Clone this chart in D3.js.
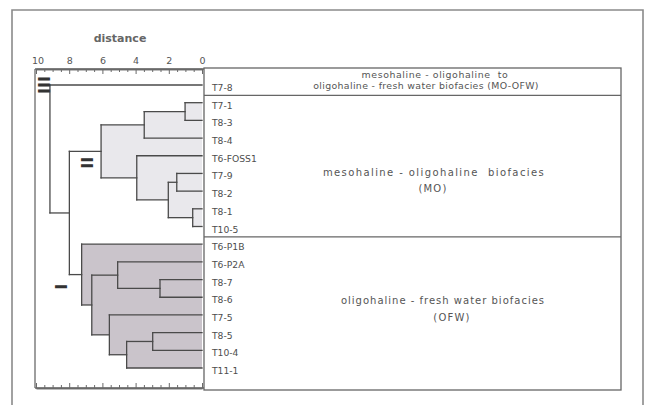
<!DOCTYPE html>
<html><head><meta charset="utf-8">
<script src="https://cdn.jsdelivr.net/npm/d3@7"></script>
<style>body{margin:0;background:#fff}svg{display:block}</style>
</head><body><svg id="c" width="651" height="405"></svg>
<script>
// ---------- DATA ----------
const leaves = ["T7-8","T7-1","T8-3","T8-4","T6-FOSS1","T7-9","T8-2","T8-1","T10-5",
                "T6-P1B","T6-P2A","T8-7","T8-6","T7-5","T8-5","T10-4","T11-1"];
// hclust-style merges: negative = leaf (1-based), positive = earlier merge (1-based)
const mergeA = [-2, 1, -8, -6, 4, -5, 2, -12, -11, -15, 10, -14, 9, -10, 7, -1];
const mergeB = [-3, -4, -9, -7, 3, 5, 6, -13, 8, -16, -17, 11, 12, 13, 14, 15];
const mergeHeight = [1.02, 3.48, 0.56, 1.52, 2.03, 3.93, 6.08, 2.53, 5.08, 2.97, 4.54, 5.58, 6.64, 7.25, 7.99, 9.16];
const mergeGroup = ["MO","MO","MO","MO","MO","MO","MO","OFW","OFW","OFW","OFW","OFW","OFW","OFW","",""];
const axisTicks = [10, 8, 6, 4, 2, 0];
const axisTitle = "distance";
const faciesLines = [
  ["mesohaline - oligohaline  to", "oligohaline - fresh water biofacies (MO-OFW)"],
  ["mesohaline - oligohaline  biofacies", "(MO)"],
  ["oligohaline - fresh water biofacies", "(OFW)"]
];
const faciesDividersAfter = ["T7-8", "T10-5"];
const clusterNumerals = ["III", "II", "I"];

// ---------- LAYOUT ----------
const svg = d3.select("#c");
const x = d3.scaleLinear().domain([0, 10]).range([202, 36]);
const yIdx = d3.scaleLinear().domain([0, leaves.length - 1]).range([85, 368]);
const y = d3.scalePoint().domain(leaves).range([85, 368]);
const fillColor = {MO: "#e9e8ec", OFW: "#cac4cb"};
const lineColor = "#4a4a4a";

// outer frame
svg.append("path").attr("d", "M12,412V10H643V412")
  .attr("fill", "none").attr("stroke", "#8a8a8a").attr("stroke-width", 1.6);

// build nodes
const nodes = mergeHeight.map((h, i) => ({h, group: mergeGroup[i], kids: [mergeA[i], mergeB[i]]}));
function childInfo(c) {
  if (c < 0) return {y: y(leaves[-c - 1]), h: 0};
  const n = nodes[c - 1];
  return {y: n.y, h: n.h};
}
nodes.forEach(n => {
  n.c = n.kids.map(childInfo);
  n.y = (n.c[0].y + n.c[1].y) / 2;
});

const g = svg.append("g");
// fills
g.selectAll("rect.fill").data(nodes.filter(n => n.group)).join("rect")
  .attr("x", n => x(n.h)).attr("width", n => x(0) - x(n.h))
  .attr("y", n => Math.min(n.c[0].y, n.c[1].y))
  .attr("height", n => Math.abs(n.c[1].y - n.c[0].y))
  .attr("fill", n => fillColor[n.group]);

// dendrogram lines
const segs = [];
nodes.forEach(n => {
  segs.push([x(n.h), n.c[0].y, x(n.h), n.c[1].y]);
  n.c.forEach(c => segs.push([x(n.h), c.y, x(c.h), c.y]));
});
g.selectAll("line.seg").data(segs).join("line")
  .attr("x1", d => d[0]).attr("y1", d => d[1]).attr("x2", d => d[2]).attr("y2", d => d[3])
  .attr("stroke", lineColor).attr("stroke-width", 1.3).attr("stroke-linecap", "square");

// dendrogram frame
const frameColor = "#6a6a6a";
svg.append("line").attr("x1", 35).attr("x2", 35).attr("y1", 69).attr("y2", 388)
  .attr("stroke", frameColor).attr("stroke-width", 1.3);

// axes
const minorVals = d3.range(0.5, 10, 1).concat(d3.range(1, 10, 2));
const topAxis = svg.append("g").attr("transform", "translate(0,69)")
  .call(d3.axisTop(x).tickValues(axisTicks).tickSizeInner(-5).tickSizeOuter(0).tickPadding(5).tickFormat(d3.format("d")));
const topMinor = svg.append("g").attr("transform", "translate(0,69)")
  .call(d3.axisTop(x).tickValues(minorVals).tickSizeInner(-3).tickSizeOuter(0).tickFormat(""));
const botAxis = svg.append("g").attr("transform", "translate(0,388)")
  .call(d3.axisBottom(x).tickValues(axisTicks).tickSizeInner(-5).tickSizeOuter(0).tickFormat(""));
const botMinor = svg.append("g").attr("transform", "translate(0,388)")
  .call(d3.axisBottom(x).tickValues(minorVals).tickSizeInner(-3).tickSizeOuter(0).tickFormat(""));
[topAxis, topMinor, botAxis, botMinor].forEach(a => {
  a.select(".domain").attr("stroke", frameColor).attr("stroke-width", 1.3);
  a.selectAll(".tick line").attr("stroke", frameColor).attr("stroke-width", 1);
  a.selectAll("text").attr("font-family", "DejaVu Sans").attr("font-size", 9.5).attr("fill", "#555");
});
topAxis.selectAll("text").attr("dx", d => d === 10 ? 1.5 : 0);
svg.append("line").attr("x1", 35).attr("x2", 204).attr("y1", 69).attr("y2", 69).attr("stroke", frameColor).attr("stroke-width", 1.3);
svg.append("line").attr("x1", 35).attr("x2", 204).attr("y1", 388).attr("y2", 388).attr("stroke", frameColor).attr("stroke-width", 1.3);

svg.append("text").text(axisTitle).attr("x", 120).attr("y", 38)
  .attr("text-anchor", "middle").attr("dominant-baseline", "central")
  .attr("font-family", "DejaVu Sans").attr("font-weight", "bold").attr("font-size", 11).attr("fill", "#666");

// facies table
const tX0 = 204, tX1 = 621, tY0 = 68, tY1 = 390;
svg.append("rect").attr("x", tX0).attr("y", tY0).attr("width", tX1 - tX0).attr("height", tY1 - tY0)
  .attr("fill", "none").attr("stroke", "#666").attr("stroke-width", 1.3);
const step = y.step();
svg.selectAll("line.div").data(faciesDividersAfter).join("line")
  .attr("x1", tX0).attr("x2", tX1)
  .attr("y1", d => y(d) + step / 2 + 1.5).attr("y2", d => y(d) + step / 2 + 1.5)
  .attr("stroke", "#666").attr("stroke-width", 1.2);

// leaf labels
svg.selectAll("text.leaf").data(leaves).join("text")
  .attr("x", 212).attr("y", d => y(d) + 2.5).attr("dominant-baseline", "central")
  .attr("font-family", "DejaVu Sans").attr("font-size", 9.2).attr("fill", "#4d4d4d")
  .text(d => d);

// facies text
const faciesPos = [
  {cx: [435, 426], y: [74.5, 85], fs: 9.4, ls: [0.6, 0.35]},
  {cx: [434, 433], y: [172, 188], fs: 10, ls: [1.4, 1.2]},
  {cx: [443, 452], y: [300, 317], fs: 10, ls: [1.0, 1.2]}
];
faciesLines.forEach((lines, i) => {
  lines.forEach((t, j) => {
    svg.append("text").text(t).attr("x", faciesPos[i].cx[j]).attr("y", faciesPos[i].y[j])
      .attr("text-anchor", "middle").attr("dominant-baseline", "central")
      .attr("font-family", "DejaVu Sans").attr("font-size", faciesPos[i].fs).attr("letter-spacing", faciesPos[i].ls[j])
      .attr("fill", "#555").style("white-space", "pre");
  });
});

// cluster numerals (rotated roman numerals)
const numeralPos = [{d: 9.55, r: 0}, {d: 6.95, r: 4.4}, {d: 8.5, r: 11.4}];
const fs = 16;
clusterNumerals.forEach((t, i) => {
  svg.append("text").text(t)
    .attr("transform", `translate(${x(numeralPos[i].d)},${yIdx(numeralPos[i].r)}) rotate(90)`)
    .attr("text-anchor", "middle").attr("y", fs * 0.729 / 2)
    .attr("font-family", "DejaVu Sans").attr("font-weight", "bold").attr("font-size", fs)
    .attr("fill", "#333");
});
</script></body></html>
